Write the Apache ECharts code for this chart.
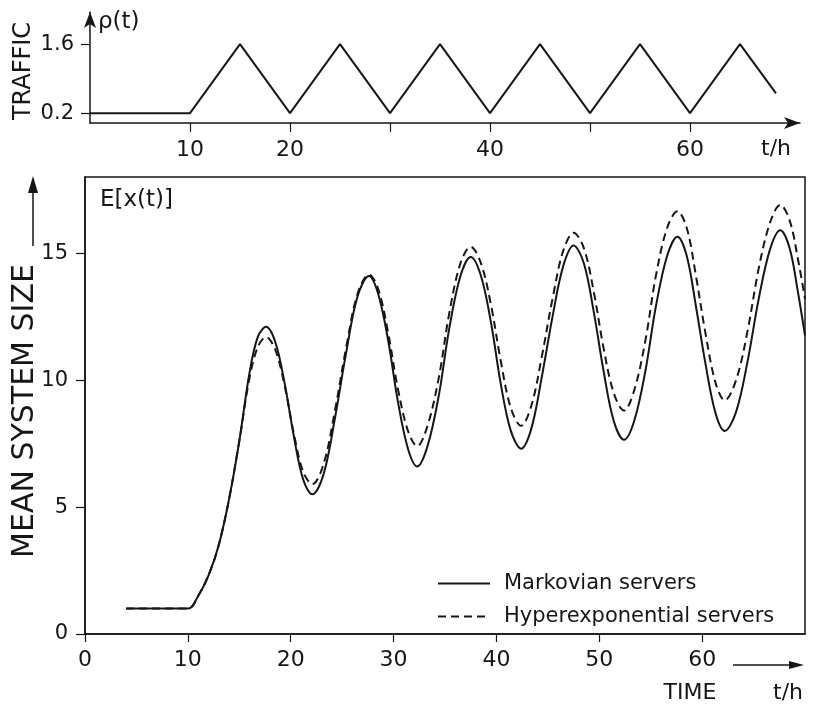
<!DOCTYPE html>
<html>
<head>
<meta charset="utf-8">
<script src="https://cdn.jsdelivr.net/npm/echarts@6/dist/echarts.min.js"></script>
<style>
html, body { margin: 0; background: #fff; }
#main { width: 821px; height: 704px; }
</style>
</head>
<body>
<div id="main"></div>
<script>
var FONT = 'DejaVu Sans';
var INK = '#161616';

// traffic rho(t), upper panel
var trafficT   = [0, 10, 15, 20, 25, 30, 35, 40, 45, 50, 55, 60, 65, 68.6];
var trafficRho = [0.2, 0.2, 1.6, 0.2, 1.6, 0.2, 1.6, 0.2, 1.6, 0.2, 1.6, 0.2, 1.6, 0.6];

// mean system size E[x(t)], lower panel
var timeH = [4, 10, 11, 12, 13, 14, 15, 16, 16.8, 17.6,
  18.5, 19.4, 20.3, 21.2, 22.1, 23.2, 24.3, 25.4, 26.5, 27.6,
  28.5, 29.5, 30.4, 31.4, 32.3, 33.3, 34.4, 35.4, 36.5, 37.5,
  38.5, 39.5, 40.4, 41.4, 42.4, 43.4, 44.4, 45.5, 46.5, 47.5,
  48.5, 49.5, 50.4, 51.4, 52.4, 53.4, 54.5, 55.5, 56.6, 57.6,
  58.5, 59.4, 60.3, 61.3, 62.2, 63.3, 64.4, 65.5, 66.6, 67.6,
  68.5, 69.3, 70];
var markovian = [1.0, 1.0, 1.5, 2.3, 3.5, 5.3, 7.6, 10.3, 11.7, 12.1,
  11.5, 9.9, 7.8, 6.1, 5.5, 6.3, 8.5, 11.1, 13.3, 14.1,
  13.4, 11.5, 9.2, 7.3, 6.6, 7.4, 9.4, 12.0, 14.1, 14.85,
  14.1, 12.2, 9.9, 8.0, 7.3, 8.1, 10.1, 12.6, 14.5, 15.3,
  14.6, 12.6, 10.4, 8.4, 7.65, 8.4, 10.4, 12.9, 14.9, 15.65,
  14.9, 12.9, 10.7, 8.7, 8.0, 8.75, 10.7, 13.2, 15.15, 15.9,
  15.2, 13.5, 11.75];
var hyperexp = [1.0, 1.0, 1.5, 2.3, 3.5, 5.3, 7.6, 10.1, 11.3, 11.7,
  11.2, 9.8, 7.9, 6.4, 5.9, 6.7, 8.8, 11.3, 13.4, 14.15,
  13.6, 11.8, 9.7, 8.0, 7.4, 8.2, 10.1, 12.6, 14.6, 15.25,
  14.6, 12.9, 10.8, 8.9, 8.2, 9.0, 10.9, 13.3, 15.1, 15.8,
  15.2, 13.4, 11.3, 9.5, 8.8, 9.6, 11.6, 14.1, 16.0, 16.65,
  16.0, 14.1, 11.9, 9.9, 9.2, 10.0, 11.9, 14.4, 16.2, 16.9,
  16.3, 14.8, 13.2];

// ticks / labels
var topXTicks = [10, 20, 30, 40, 50, 60];
var topXLabels = [10, 20, 40, 60];
var topYTicks = [0.2, 1.6];
var botXTicks = [0, 10, 20, 30, 40, 50, 60];
var botYTicks = [0, 5, 10, 15];

function pairs(xs, ys) {
  return xs.map(function (x, i) { return [x, ys[i]]; });
}

var chart = echarts.init(document.getElementById('main'));
chart.setOption({
  backgroundColor: '#fff',
  animation: false,
  grid: [
    { left: 90, top: 12, width: 710, height: 111 },
    { left: 85, top: 177, width: 720, height: 457, show: true,
      borderColor: INK, borderWidth: 1.5, backgroundColor: 'transparent' }
  ],
  xAxis: [
    {
      type: 'value', gridIndex: 0, min: 0, max: 71,
      axisLine: { show: true, symbol: ['none', 'arrow'], symbolSize: [9, 16],
        lineStyle: { color: INK, width: 1.5 } },
      axisTick: { show: true, customValues: topXTicks, length: 9,
        lineStyle: { color: INK, width: 1.2 } },
      axisLabel: { customValues: topXLabels, fontSize: 22, margin: 16,
        color: INK, fontFamily: FONT },
      splitLine: { show: false }
    },
    {
      type: 'value', gridIndex: 1, min: 0, max: 70,
      axisLine: { show: true, lineStyle: { color: INK, width: 1.5 } },
      axisTick: { show: true, customValues: botXTicks, length: 8,
        lineStyle: { color: INK, width: 1.2 } },
      axisLabel: { customValues: botXTicks, fontSize: 22, margin: 15,
        color: INK, fontFamily: FONT },
      splitLine: { show: false }
    }
  ],
  yAxis: [
    {
      type: 'value', gridIndex: 0, min: 0, max: 2.25,
      axisLine: { show: true, symbol: ['none', 'arrow'], symbolSize: [9, 16],
        lineStyle: { color: INK, width: 1.5 } },
      axisTick: { show: true, customValues: topYTicks, length: 9,
        lineStyle: { color: INK, width: 1.2 } },
      axisLabel: { customValues: topYTicks, fontSize: 21, margin: 16,
        color: INK, fontFamily: FONT,
        formatter: function (v) { return v.toFixed(1); } },
      splitLine: { show: false }
    },
    {
      type: 'value', gridIndex: 1, min: 0, max: 18,
      axisLine: { show: true, lineStyle: { color: INK, width: 1.5 } },
      axisTick: { show: true, customValues: botYTicks, length: 9,
        lineStyle: { color: INK, width: 1.2 } },
      axisLabel: { customValues: botYTicks, fontSize: 21, margin: 17,
        color: INK, fontFamily: FONT },
      splitLine: { show: false }
    }
  ],
  legend: {
    orient: 'vertical', left: 432, top: 568,
    itemWidth: 52, itemHeight: 14, itemGap: 12,
    itemStyle: { opacity: 0, borderWidth: 0 },
    textStyle: { fontSize: 21, color: INK, fontFamily: FONT, padding: [0, 0, 0, 9] },
    data: ['Markovian servers', 'Hyperexponential servers']
  },
  series: [
    {
      name: 'traffic', type: 'line', xAxisIndex: 0, yAxisIndex: 0,
      data: pairs(trafficT, trafficRho), showSymbol: false, symbol: 'none',
      lineStyle: { color: INK, width: 2 }, itemStyle: { color: INK }
    },
    {
      name: 'Markovian servers', type: 'line', xAxisIndex: 1, yAxisIndex: 1,
      data: pairs(timeH, markovian), smooth: 0.35, showSymbol: false, symbol: 'none',
      lineStyle: { color: INK, width: 2 }, itemStyle: { color: INK }
    },
    {
      name: 'Hyperexponential servers', type: 'line', xAxisIndex: 1, yAxisIndex: 1,
      data: pairs(timeH, hyperexp), smooth: 0.35, showSymbol: false, symbol: 'none',
      lineStyle: { color: INK, width: 2, type: [8, 5] }, itemStyle: { color: INK }
    }
  ],
  graphic: [
    { type: 'text', x: 24, y: 71, rotation: Math.PI / 2,
      style: { text: 'TRAFFIC', fill: INK, font: '24px "DejaVu Sans"', align: 'center', verticalAlign: 'middle' } },
    { type: 'text', x: 98, y: 22,
      style: { text: 'ρ(t)', fill: INK, font: '23px "DejaVu Sans"', align: 'left', verticalAlign: 'middle' } },
    { type: 'text', x: 776, y: 149,
      style: { text: 't/h', fill: INK, font: '22px "DejaVu Sans"', align: 'center', verticalAlign: 'middle' } },
    { type: 'text', x: 100, y: 200,
      style: { text: 'E[x(t)]', fill: INK, font: '23px "DejaVu Sans"', align: 'left', verticalAlign: 'middle' } },
    { type: 'text', x: 25, y: 411, rotation: Math.PI / 2,
      style: { text: 'MEAN SYSTEM SIZE', fill: INK, font: '30px "DejaVu Sans"', align: 'center', verticalAlign: 'middle' } },
    { type: 'line', shape: { x1: 33, y1: 246, x2: 33, y2: 190 },
      style: { stroke: INK, lineWidth: 1.5 } },
    { type: 'polygon', shape: { points: [[28, 193], [38, 193], [33, 176]] },
      style: { fill: INK } },
    { type: 'text', x: 690, y: 693,
      style: { text: 'TIME', fill: INK, font: '22px "DejaVu Sans"', align: 'center', verticalAlign: 'middle' } },
    { type: 'text', x: 788, y: 693,
      style: { text: 't/h', fill: INK, font: '22px "DejaVu Sans"', align: 'center', verticalAlign: 'middle' } },
    { type: 'line', shape: { x1: 733, y1: 665, x2: 792, y2: 665 },
      style: { stroke: INK, lineWidth: 1.5 } },
    { type: 'polygon', shape: { points: [[789, 661], [789, 669], [804, 665]] },
      style: { fill: INK } }
  ]
});
</script>
</body>
</html>
